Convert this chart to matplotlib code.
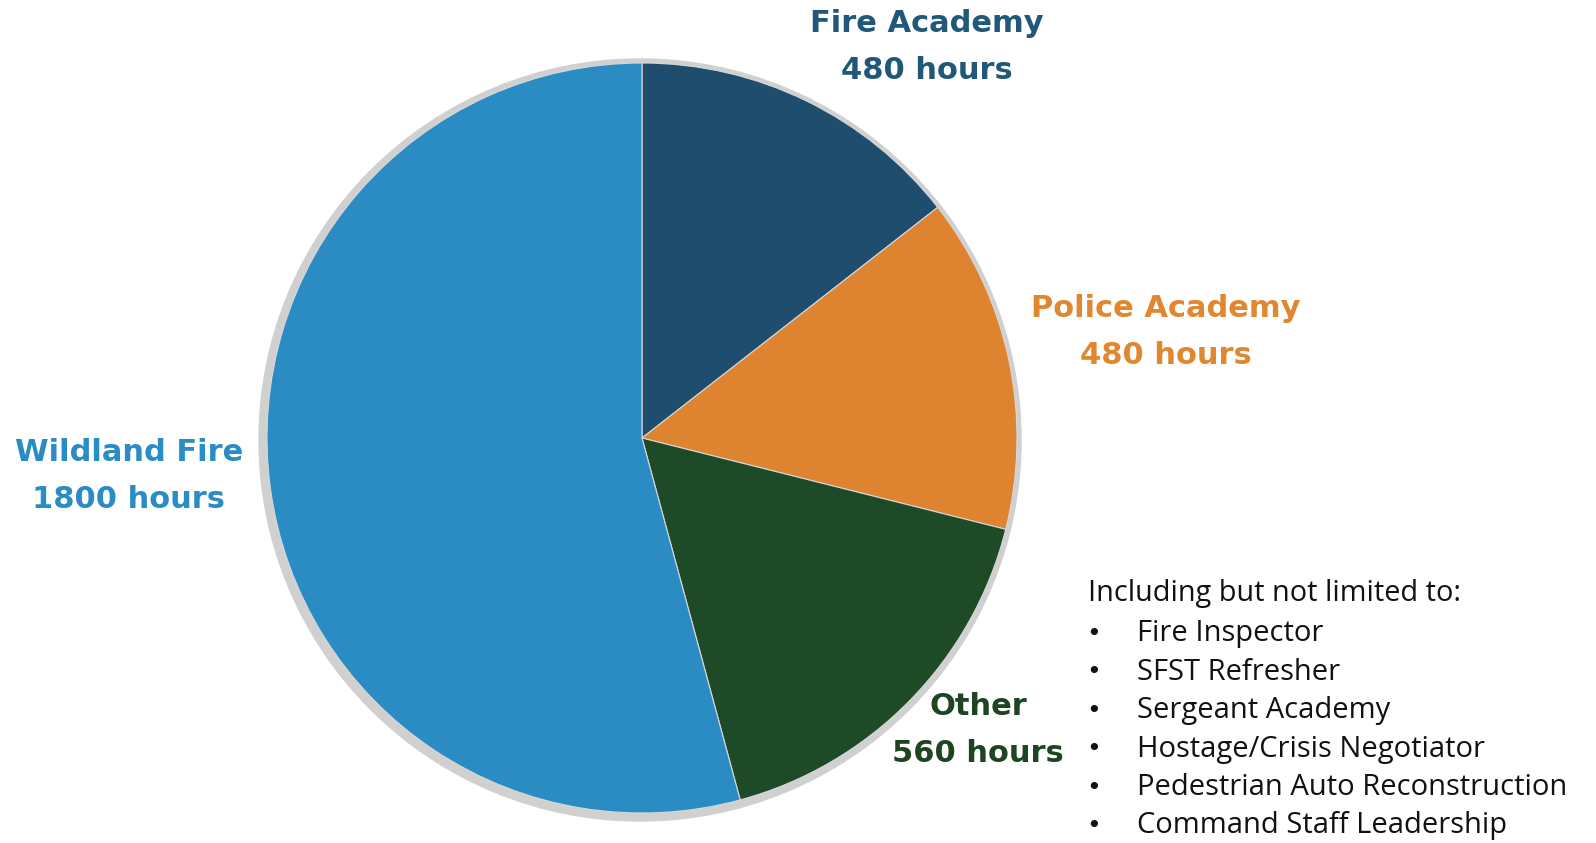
import matplotlib
matplotlib.use("Agg")
import matplotlib.pyplot as plt
from matplotlib.patches import Circle

categories = ["Fire Academy", "Police Academy", "Other", "Wildland Fire"]
hours = [480, 480, 560, 1800]
slice_colors = ["#1f4d6e", "#de8330", "#1e4a27", "#2b8cc3"]
label_colors = ["#1f5878", "#e0872f", "#1e4421", "#2a8cc4"]
label_pos = [(927, 47), (1166, 332), (978, 730), (129, 476)]
list_header = "Including but not limited to:"
list_items = ["Fire Inspector", "SFST Refresher", "Sergeant Academy",
              "Hostage/Crisis Negotiator", "Pedestrian Auto Reconstruction",
              "Command Staff Leadership"]

W, H = 1596, 843
fig = plt.figure(figsize=(W / 100, H / 100), dpi=100)
ax = fig.add_axes([0, 0, 1, 1])
ax.set_xlim(0, W)
ax.set_ylim(0, H)
ax.set_aspect("equal")
ax.axis("off")

cx, cy, r = 642, H - 438, 375
ax.add_patch(Circle((cx - 2, cy - 2), r + 6, color="#d0d0d0", zorder=0))
ax.pie(hours, colors=slice_colors, startangle=90, counterclock=False,
       center=(cx, cy), radius=r, frame=True,
       wedgeprops=dict(linewidth=0.8, edgecolor="#d8d8d8"))
ax.set_xlim(0, W)
ax.set_ylim(0, H)
ax.axis("off")

for cat, h, col, (x, y) in zip(categories, hours, label_colors, label_pos):
    ax.text(x, H - y, f"{cat}\n{h} hours", color=col, fontsize=22,
            fontweight="bold", family="DejaVu Sans", ha="center", va="center",
            linespacing=1.75)

ax.text(1088, H - 594, list_header, fontsize=20.8, family="Open Sans",
        color="#111111", ha="left", va="center")
for i, item in enumerate(list_items):
    y = H - (634 + i * 38.4)
    ax.text(1094, y, "•", fontsize=18, family="DejaVu Sans", color="#111111",
            ha="center", va="center")
    ax.text(1137, y, item, fontsize=21, family="Open Sans", color="#111111",
            ha="left", va="center")

fig.savefig("out.png", dpi=100, facecolor="white")
